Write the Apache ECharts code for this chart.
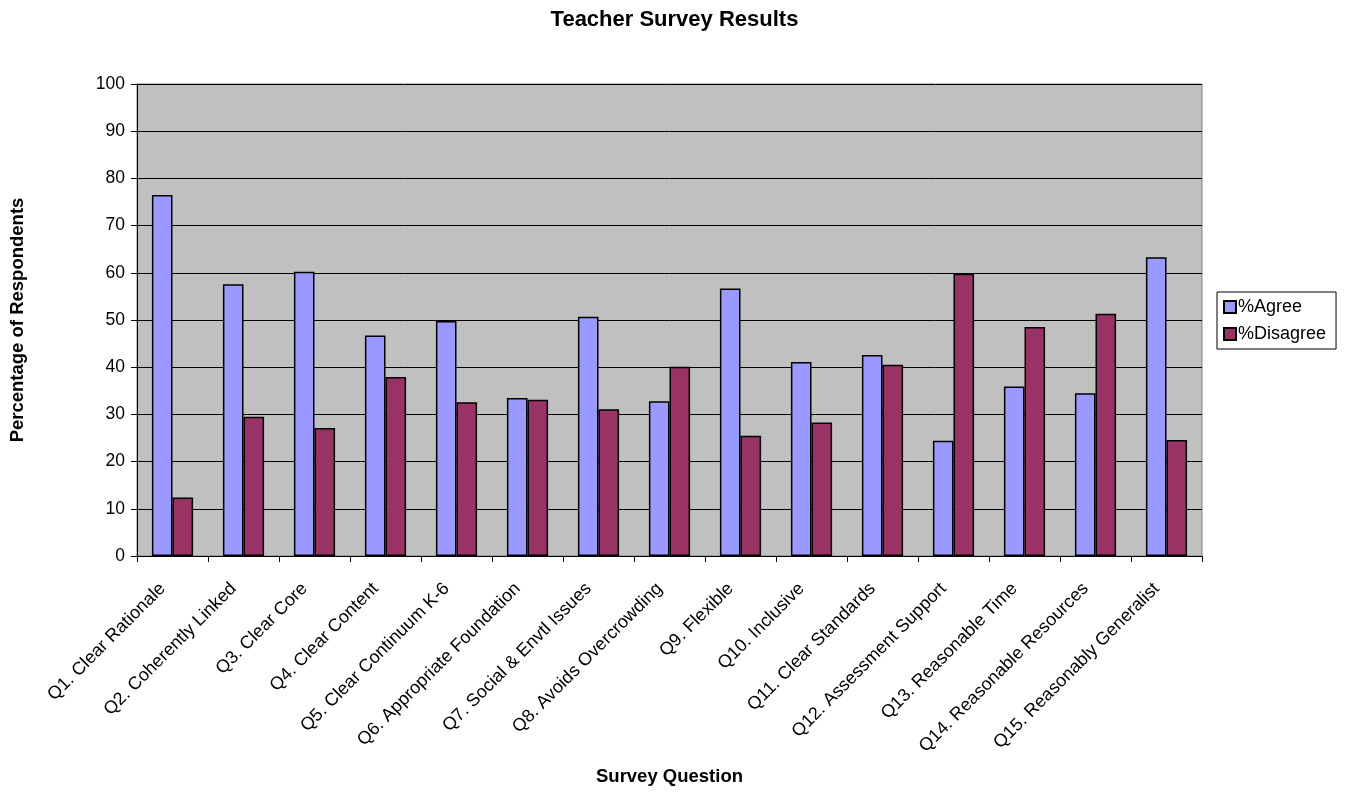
<!DOCTYPE html>
<html><head><meta charset="utf-8">
<script src="https://cdn.jsdelivr.net/npm/echarts@6/dist/echarts.min.js"></script>
<style>html,body{margin:0;padding:0;background:#fff;overflow:hidden}#c{width:1349px;height:792px}</style>
</head><body><div id="c"></div>
<script>
const categories = ["Q1. Clear Rationale","Q2. Coherently Linked","Q3. Clear Core","Q4. Clear Content","Q5. Clear Continuum K-6","Q6. Appropriate Foundation","Q7. Social & Envtl Issues","Q8. Avoids Overcrowding","Q9. Flexible","Q10. Inclusive","Q11. Clear Standards","Q12. Assessment Support","Q13. Reasonable Time","Q14. Reasonable Resources","Q15. Reasonably Generalist"];
const agree = [76.5,57.6,60.2,46.7,49.8,33.5,50.7,32.8,56.7,41.1,42.6,24.4,35.9,34.5,63.3];
const disagree = [12.4,29.5,27.1,37.9,32.6,33.1,31.1,40.1,25.5,28.3,40.5,59.8,48.5,51.3,24.6];
const yTicks = {min:0,max:100,interval:10};

const font = 'Arial, "Liberation Sans", sans-serif';
const chart = echarts.init(document.getElementById('c'), null, {renderer:'canvas'});
chart.setOption({
  animation:false,
  textStyle:{fontFamily:font},
  title:{text:'Teacher Survey Results',left:'center',top:4,textStyle:{fontFamily:font,fontSize:22,fontWeight:'bold',color:'#000'}},
  legend:{orient:'vertical',left:1217,top:292,itemWidth:12,itemHeight:12,itemGap:9,padding:[6,10,6,6],
    borderColor:'#000',borderWidth:1,backgroundColor:'#fff',icon:'rect',
    textStyle:{fontFamily:font,fontSize:18,color:'#000',padding:[0,0,0,-3]}},
  grid:{left:137,right:147,top:84,bottom:236,show:true,backgroundColor:'#C0C0C0',borderColor:'#808080',borderWidth:1,containLabel:false},
  xAxis:{type:'category',data:categories,boundaryGap:true,
    name:'Survey Question',nameLocation:'middle',nameGap:211,
    nameTextStyle:{fontFamily:font,fontSize:18.5,fontWeight:'bold',color:'#000'},
    axisLine:{lineStyle:{color:'#000',width:1}},
    axisTick:{show:true,length:6,lineStyle:{color:'#000'}},
    axisLabel:{rotate:45,interval:0,fontFamily:font,fontSize:18,color:'#000',margin:20,padding:[0,14,0,0]}},
  yAxis:{type:'value',min:yTicks.min,max:yTicks.max,interval:yTicks.interval,
    name:'Percentage of Respondents',nameLocation:'middle',nameGap:110,
    nameTextStyle:{fontFamily:font,fontSize:18.5,fontWeight:'bold',color:'#000'},
    axisLine:{show:true,lineStyle:{color:'#000',width:1}},
    axisTick:{show:true,length:6,inside:false,lineStyle:{color:'#000'}},
    axisLabel:{fontFamily:font,fontSize:17.5,color:'#000',margin:12},
    splitLine:{show:true,lineStyle:{color:'#000',width:1}}},
  series:[
    {name:'%Agree',type:'bar',data:agree,barGap:'0%',barCategoryGap:'42%',
      itemStyle:{color:'#9999FF',borderColor:'#000',borderWidth:1.5}},
    {name:'%Disagree',type:'bar',data:disagree,barGap:'0%',barCategoryGap:'42%',
      itemStyle:{color:'#993366',borderColor:'#000',borderWidth:1.5}}
  ]
});
</script></body></html>
